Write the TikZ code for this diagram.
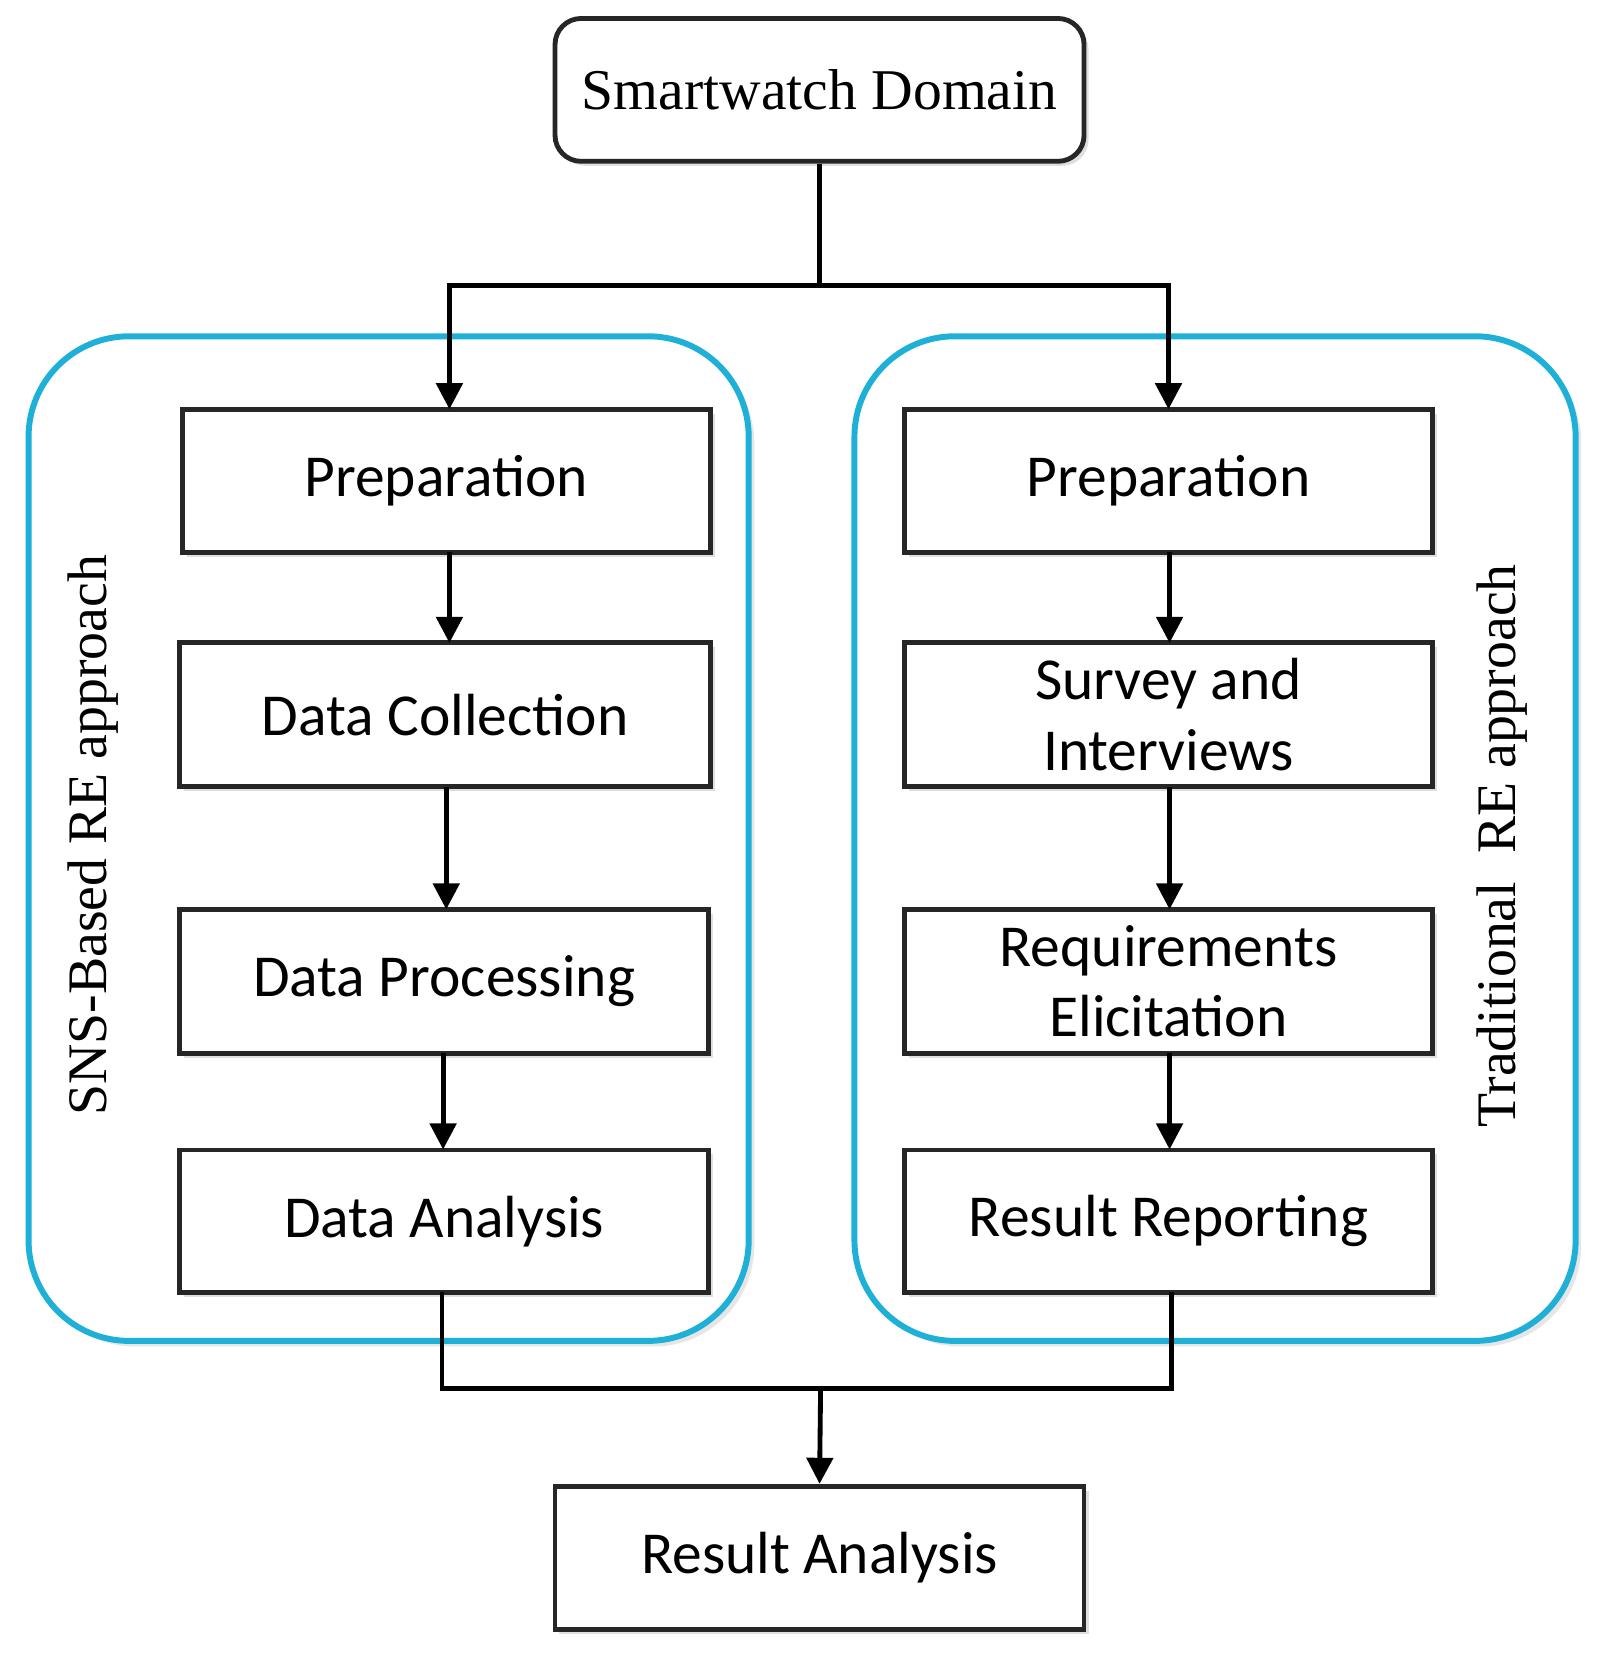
\documentclass[tikz,border=0pt]{standalone}
\usepackage{fontspec}
\setmainfont{Liberation Serif}
\newfontfamily\carlitofont{Carlito}
\usetikzlibrary{arrows.meta,shadows}
\definecolor{blu}{HTML}{1FB0D8}
\begin{document}
\begin{tikzpicture}[x=0.01cm,y=-0.01cm,
  box/.style={draw=black!85,line width=1.3pt,fill=white,font=\carlitofont\fontsize{16}{19}\selectfont,align=center,drop shadow={shadow xshift=1.2pt,shadow yshift=-1.2pt,opacity=0.25}},
  grp/.style={draw=blu,fill=white,line width=1.6pt,rounded corners=0.95cm,drop shadow={shadow xshift=1.5pt,shadow yshift=-1.5pt,opacity=0.2}},
  vlab/.style={rotate=90,font=\fontsize{15}{18}\selectfont},
  arr/.style={-{Triangle[length=7pt,width=7pt]},line width=1.3pt},
  ln/.style={line width=1.3pt}]
\useasboundingbox (0,0) rectangle (1520,1566);
\draw[grp] (27,318) rectangle (708,1268);
\draw[grp] (808,318) rectangle (1490,1268);
\node[box,rounded corners=7pt,minimum width=5cm,minimum height=1.35cm,font=\fontsize{15.5}{18}\selectfont] (sw) at (775,85) {Smartwatch Domain};
\node[box,minimum width=4.99cm,minimum height=1.35cm] (p1) at (422,455) {Preparation};
\node[box,minimum width=5.02cm,minimum height=1.36cm] (dc) at (421,676) {Data Collection};
\node[box,minimum width=5cm,minimum height=1.36cm] (dp) at (420,928) {Data Processing};
\node[box,minimum width=5cm,minimum height=1.35cm] (da) at (420,1155) {Data Analysis};
\node[box,minimum width=4.99cm,minimum height=1.35cm] (p2) at (1105,455) {Preparation};
\node[box,minimum width=4.99cm,minimum height=1.36cm] (si) at (1105,676) {Survey and\\Interviews};
\node[box,minimum width=4.99cm,minimum height=1.36cm] (re) at (1105,928) {Requirements\\Elicitation};
\node[box,minimum width=4.99cm,minimum height=1.35cm] (rr) at (1105,1155) {Result Reporting};
\node[box,minimum width=5cm,minimum height=1.35cm] (ra) at (775,1473) {Result Analysis};
\node[vlab] (l1) at (88,790) {SNS-Based RE approach};
\node[vlab] (l2) at (1420,800) {Traditional\ \ RE approach};
\coordinate (t) at (775,270);
\coordinate (b) at (776,1313);
\draw[ln] (sw.south) -- (t);
\draw[arr] (t) -| (425,387);
\draw[arr] (t) -| (1105,387);
\draw[arr] (425,522) -- (425,608);
\draw[arr] (422,744) -- (422,860);
\draw[arr] (419,996) -- (419,1087);
\draw[arr] (1106,522) -- (1106,608);
\draw[arr] (1106,744) -- (1106,860);
\draw[arr] (1106,996) -- (1106,1087);
\draw[ln] (418,1222) |- (b) -| (1108,1222);
\draw[arr] (b) -- (ra.north);
\end{tikzpicture}
\end{document}
